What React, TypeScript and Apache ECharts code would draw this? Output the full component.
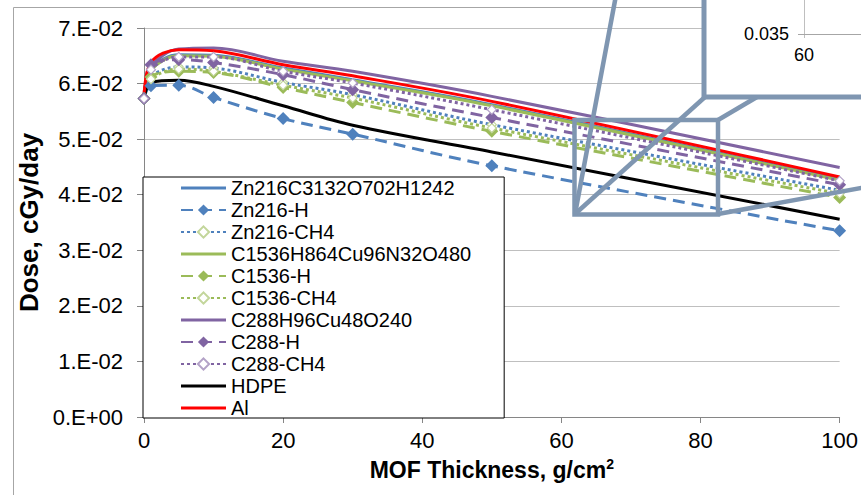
import React, { useEffect, useRef } from "react";
import * as echarts from "echarts";

// MOF thickness, g/cm^2
const thickness = [0, 1, 5, 10, 20, 30, 50, 100];

// Dose, cGy/day
const zn216Formula = [0.0573, 0.0626, 0.0652, 0.0651, 0.0628, 0.0607, 0.0562, 0.0428];
const zn216H = [0.0573, 0.0596, 0.0597, 0.0575, 0.0537, 0.0509, 0.0452, 0.0335];
const zn216CH4 = [0.0573, 0.0612, 0.063, 0.0628, 0.0602, 0.058, 0.0526, 0.0408];
const c1536Formula = [0.0573, 0.0624, 0.065, 0.0649, 0.0626, 0.0605, 0.056, 0.0426];
const c1536H = [0.0573, 0.0612, 0.0622, 0.062, 0.0593, 0.0566, 0.0514, 0.0395];
const c1536CH4 = [0.0573, 0.0608, 0.0626, 0.0622, 0.0597, 0.0574, 0.052, 0.0402];
const c288Formula = [0.0573, 0.063, 0.0662, 0.0664, 0.064, 0.0622, 0.0577, 0.0449];
const c288H = [0.0573, 0.0634, 0.0643, 0.0638, 0.0616, 0.0589, 0.0539, 0.0418];
const c288CH4 = [0.0573, 0.0625, 0.0648, 0.0648, 0.0622, 0.0601, 0.0553, 0.0425];
const hdpe = [0.0573, 0.0602, 0.0606, 0.0595, 0.056, 0.0525, 0.0477, 0.0356];
const al = [0.0573, 0.0638, 0.0661, 0.0659, 0.0634, 0.0614, 0.0568, 0.0432];

const yTickLabels = ["0.E+00", "1.E-02", "2.E-02", "3.E-02", "4.E-02", "5.E-02", "6.E-02", "7.E-02"];

const BLUE = "#4f81bd";
const GREEN = "#9bbb59";
const PURPLE = "#8064a2";
const FONT = "'Liberation Sans', Arial, sans-serif";
const INSET = "#7f96b1";

type Kind = "solid" | "dash" | "dot";

function mk(name: string, values: number[], color: string, kind: Kind, marker?: "filled" | "open", markerStroke?: string) {
  const lineType: any = kind === "solid" ? "solid" : kind === "dash" ? [12, 7] : [3, 3];
  const s: any = {
    name,
    type: "line",
    data: thickness.map((x, i) => [x, values[i]]),
    smooth: 0.35,
    lineStyle: { color, width: 3, type: lineType },
    itemStyle: { color },
    emphasis: { disabled: true },
  };
  if (marker === "filled") {
    s.symbol = "diamond";
    s.symbolSize = 13;
    s.itemStyle = { color, borderWidth: 0 };
  } else if (marker === "open") {
    s.symbol = "diamond";
    s.symbolSize = 9;
    s.itemStyle = { color: "#ffffff", borderColor: markerStroke, borderWidth: 1.2 };
  } else {
    s.symbol = "none";
    s.showSymbol = false;
  }
  return s;
}

export default function App() {
  const ref = useRef<HTMLDivElement>(null);
  useEffect(() => {
    if (!ref.current) return;
    const chart = echarts.init(ref.current, undefined, { renderer: "svg" });
    const series = [
      mk("Zn216C3132O702H1242", zn216Formula, BLUE, "solid"),
      mk("Zn216-H", zn216H, BLUE, "dash", "filled"),
      mk("Zn216-CH4", zn216CH4, BLUE, "dot", "open", "#c3d69b"),
      mk("C1536H864Cu96N32O480", c1536Formula, GREEN, "solid"),
      mk("C1536-H", c1536H, GREEN, "dash", "filled"),
      mk("C1536-CH4", c1536CH4, GREEN, "dot", "open", "#c3d69b"),
      mk("C288H96Cu48O240", c288Formula, PURPLE, "solid"),
      mk("C288-H", c288H, PURPLE, "dash", "filled"),
      mk("C288-CH4", c288CH4, PURPLE, "dot", "open", "#b3a2c7"),
      mk("HDPE", hdpe, "#000000", "solid"),
      mk("Al", al, "#ff0000", "solid"),
    ];
    const legendData = series.map((s) =>
      s.symbol === "none"
        ? { name: s.name, icon: "path://M0,0h45v3h-45z", itemStyle: { color: s.lineStyle.color } }
        : { name: s.name }
    );
    chart.setOption({
      animation: false,
      backgroundColor: "#ffffff",
      textStyle: { fontFamily: FONT },
      grid: { left: 144, right: 10, top: 28, bottom: 78, containLabel: false },
      xAxis: {
        type: "value",
        min: 0,
        max: 100,
        interval: 20,
        name: "MOF Thickness, g/cm{sup|2}",
        nameLocation: "middle",
        nameGap: 40,
        nameTextStyle: {
          fontSize: 23,
          fontWeight: "bold",
          color: "#000",
          fontFamily: FONT,
          rich: { sup: { fontSize: 14, fontWeight: "bold", color: "#000", verticalAlign: "top", padding: [0, 0, 12, 0] } },
        },
        axisLine: { show: true, lineStyle: { color: "#868686", width: 1 } },
        axisTick: { show: true, length: 6, lineStyle: { color: "#868686" } },
        splitLine: { show: false },
        axisLabel: { fontSize: 22, color: "#000", margin: 12, fontFamily: FONT },
      },
      yAxis: {
        type: "value",
        min: 0,
        max: 0.07,
        interval: 0.01,
        name: "Dose, cGy/day",
        nameLocation: "middle",
        nameGap: 96,
        nameTextStyle: { fontSize: 26, fontWeight: "bold", color: "#000", fontFamily: FONT },
        axisLine: { show: true, lineStyle: { color: "#868686", width: 1 } },
        axisTick: { show: true, length: 7, lineStyle: { color: "#868686" } },
        splitLine: { show: true, lineStyle: { color: "#bfbfbf", width: 1 } },
        axisLabel: {
          fontSize: 22,
          color: "#000",
          margin: 21,
          fontFamily: FONT,
          formatter: (v: number) => yTickLabels[Math.round(v * 100)] ?? "",
        },
      },
      legend: {
        orient: "vertical",
        left: 143,
        top: 177,
        itemWidth: 45,
        itemHeight: 14,
        itemGap: 2,
        padding: [1, 33, 0, 37],
        backgroundColor: "#ffffff",
        borderColor: "#000000",
        borderWidth: 1,
        borderRadius: 0,
        selectedMode: false,
        symbolKeepAspect: true,
        textStyle: { fontSize: 20, color: "#000", fontFamily: FONT },
        data: legendData,
      },
      graphic: [
        { type: "rect", z: 100, shape: { x: 13.5, y: 7.5, width: 1000, height: 1000 }, style: { fill: "none", stroke: "#a6a6a6", lineWidth: 1 }, silent: true },
        { type: "rect", z: 110, shape: { x: 704, y: -30, width: 300, height: 127 }, style: { fill: "#ffffff", stroke: INSET, lineWidth: 5 } },
        { type: "line", z: 111, shape: { x1: 804.5, y1: -5, x2: 804.5, y2: 38 }, style: { stroke: "#bfbfbf", lineWidth: 1 } },
        { type: "line", z: 111, shape: { x1: 798, y1: 34.5, x2: 870, y2: 34.5 }, style: { stroke: "#a6a6a6", lineWidth: 1 } },
        { type: "text", z: 112, x: 789, y: 34, style: { text: "0.035", fontSize: 18, fontFamily: FONT, fill: "#000", align: "right", verticalAlign: "middle" } },
        { type: "text", z: 112, x: 804, y: 55, style: { text: "60", fontSize: 18, fontFamily: FONT, fill: "#000", align: "center", verticalAlign: "middle" } },
        { type: "rect", z: 105, shape: { x: 574.5, y: 120, width: 143.5, height: 94.5 }, style: { fill: "none", stroke: INSET, lineWidth: 4.5 } },
        { type: "line", z: 105, shape: { x1: 575, y1: 214, x2: 617, y2: -10 }, style: { stroke: INSET, lineWidth: 4.5 } },
        { type: "line", z: 105, shape: { x1: 575, y1: 214, x2: 705, y2: 97 }, style: { stroke: INSET, lineWidth: 4.5 } },
        { type: "line", z: 105, shape: { x1: 718, y1: 120, x2: 757, y2: 97 }, style: { stroke: INSET, lineWidth: 4.5 } },
        { type: "line", z: 105, shape: { x1: 718, y1: 214, x2: 900, y2: 181 }, style: { stroke: INSET, lineWidth: 4.5 } },
      ],
      series,
    });
    return () => chart.dispose();
  }, []);
  return (
    <div
      ref={ref}
      style={{ position: "fixed", left: 0, top: 0, width: 861, height: 495, background: "#fff" }}
    />
  );
}
